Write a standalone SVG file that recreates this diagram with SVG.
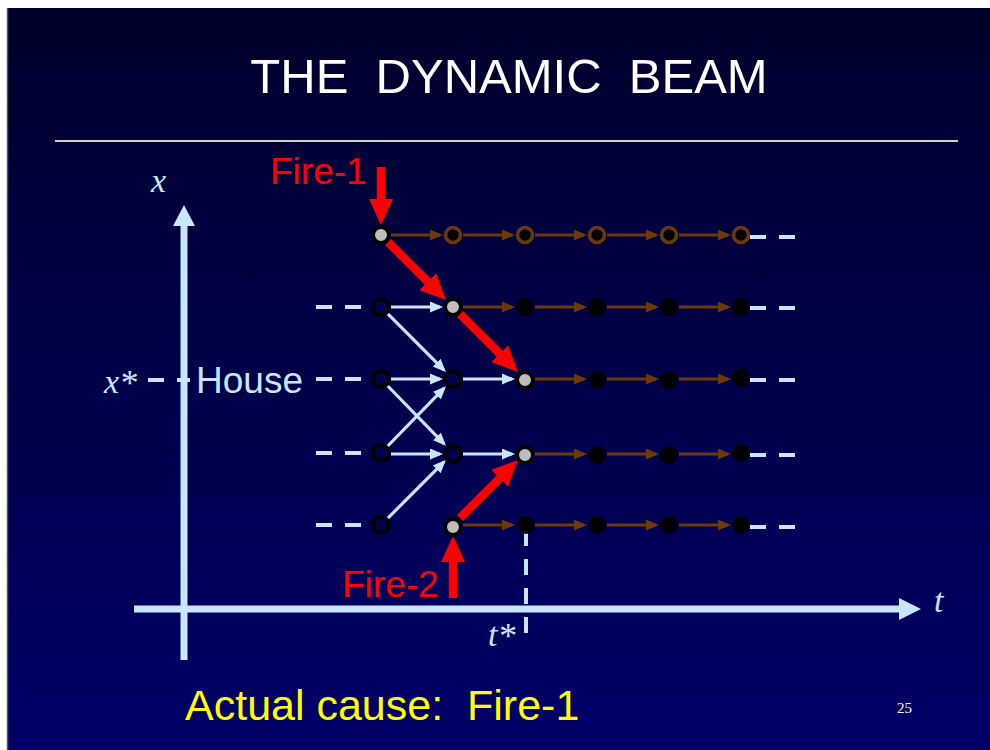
<svg xmlns="http://www.w3.org/2000/svg" width="990" height="750" viewBox="0 0 990 750">
  <defs>
    <linearGradient id="bg" x1="0" y1="0" x2="0" y2="1">
      <stop offset="0" stop-color="#00002c"/>
      <stop offset="1" stop-color="#000068"/>
    </linearGradient>
    <marker id="brownHead" markerUnits="userSpaceOnUse" viewBox="0 0 13 11" refX="10" refY="5.5" markerWidth="13" markerHeight="11" orient="auto">
      <path d="M0,0 L13,5.5 L0,11 z" fill="#6b3a08"/>
    </marker>
    <marker id="blueHead" markerUnits="userSpaceOnUse" viewBox="0 0 13 11" refX="10" refY="5.5" markerWidth="13" markerHeight="11" orient="auto">
      <path d="M0,0 L13,5.5 L0,11 z" fill="#c8e6ff"/>
    </marker>
    <marker id="redHead" markerUnits="userSpaceOnUse" viewBox="0 0 26 24" refX="6" refY="12" markerWidth="26" markerHeight="24" orient="auto">
      <path d="M0,0 L26,12 L0,24 z" fill="#ff0000"/>
    </marker>
    <style>
      .brown { stroke: #6b3a08; stroke-width: 3; fill: none; marker-end: url(#brownHead); }
      .blue { stroke: #c8e6ff; stroke-width: 3.2; fill: none; marker-end: url(#blueHead); }
      .red { stroke: #ff0000; stroke-width: 8.5; fill: none; marker-end: url(#redHead); }
      .dash { stroke: #c8e6ff; stroke-width: 4; stroke-dasharray: 16 13; fill: none; }
      .axis { stroke: #c8e6ff; stroke-width: 7; fill: none; }
      .hollow { fill: #000050; stroke: #000000; stroke-width: 4; }
      .gray { fill: #bdbdbd; stroke: #000000; stroke-width: 4; }
      .ring { fill: #000000; stroke: #6b3a08; stroke-width: 3.5; }
      .solid { fill: #000000; stroke: none; }
      .sans { font-family: "Liberation Sans", Arial, sans-serif; }
      .ital { font-family: "Liberation Serif", "Times New Roman", serif; font-style: italic; fill: #c8e6ff; }
    </style>
  </defs>

  <rect x="0" y="0" width="990" height="750" fill="#ffffff"/>
  <rect x="7" y="8" width="983" height="742" fill="url(#bg)"/>
  <line x1="7.5" y1="8" x2="7.5" y2="750" stroke="#555555" stroke-width="1.5"/>

  <text x="509" y="93" class="sans" font-size="49" fill="#ffffff" text-anchor="middle" xml:space="preserve">THE  DYNAMIC  BEAM</text>
  <line x1="55" y1="141" x2="958" y2="141" stroke="#cfcfcf" stroke-width="2"/>

  <!-- axes -->
  <g id="axes">
    <line class="axis" x1="184" y1="660" x2="184" y2="222"/>
    <polygon points="173,226 184,205 195,226" fill="#c8e6ff"/>
    <line class="axis" x1="134" y1="609" x2="902" y2="609"/>
    <polygon points="899,598 921,609 899,620" fill="#c8e6ff"/>
    <text x="151" y="192" class="ital" font-size="34">x</text>
    <text x="934" y="612" class="ital" font-size="34">t</text>
    <text x="104" y="393" class="ital" font-size="34">x<tspan font-size="36" dy="2">*</tspan></text>
    <text x="488" y="646" class="ital" font-size="34">t<tspan font-size="36" dy="2">*</tspan></text>
  </g>

  <!-- dashes -->
  <g id="dashes">
    <line class="dash" x1="148" y1="380" x2="190" y2="380" stroke-dasharray="17 13"/>
    <line class="dash" x1="316" y1="307" x2="361" y2="307"/>
    <line class="dash" x1="316" y1="379" x2="361" y2="379"/>
    <line class="dash" x1="316" y1="453" x2="361" y2="453"/>
    <line class="dash" x1="316" y1="525" x2="361" y2="525"/>
    <line class="dash" x1="750" y1="237" x2="796" y2="237"/>
    <line class="dash" x1="750" y1="308" x2="796" y2="308"/>
    <line class="dash" x1="750" y1="380" x2="796" y2="380"/>
    <line class="dash" x1="750" y1="455" x2="796" y2="455"/>
    <line class="dash" x1="750" y1="527" x2="796" y2="527"/>
    <line class="dash" x1="526" y1="530" x2="526" y2="634" stroke-dasharray="15 14"/>
  </g>

  <text x="196" y="393" class="sans" font-size="37" fill="#c8e6ff">House</text>

  <!-- connectors -->
  <g id="connectors">
    <!-- row 1 brown -->
    <line class="brown" x1="391" y1="235" x2="440" y2="235"/>
    <line class="brown" x1="463" y1="235" x2="512" y2="235"/>
    <line class="brown" x1="535" y1="235" x2="584" y2="235"/>
    <line class="brown" x1="607" y1="235" x2="656" y2="235"/>
    <line class="brown" x1="679" y1="235" x2="728" y2="235"/>
    <!-- row 2 brown -->
    <line class="brown" x1="463" y1="307" x2="512" y2="307"/>
    <line class="brown" x1="535" y1="307" x2="584" y2="307"/>
    <line class="brown" x1="607" y1="307" x2="656" y2="307"/>
    <line class="brown" x1="679" y1="307" x2="728" y2="307"/>
    <!-- row 3 brown -->
    <line class="brown" x1="535" y1="379" x2="584" y2="379"/>
    <line class="brown" x1="607" y1="379" x2="656" y2="379"/>
    <line class="brown" x1="679" y1="379" x2="728" y2="379"/>
    <!-- row 4 brown -->
    <line class="brown" x1="535" y1="454" x2="584" y2="454"/>
    <line class="brown" x1="607" y1="454" x2="656" y2="454"/>
    <line class="brown" x1="679" y1="454" x2="728" y2="454"/>
    <!-- row 5 brown -->
    <line class="brown" x1="463" y1="525" x2="512" y2="525"/>
    <line class="brown" x1="535" y1="525" x2="584" y2="525"/>
    <line class="brown" x1="607" y1="525" x2="656" y2="525"/>
    <line class="brown" x1="679" y1="525" x2="728" y2="525"/>

    <!-- light blue -->
    <line class="blue" x1="391" y1="307" x2="440" y2="307"/>
    <line class="blue" x1="391" y1="379" x2="440" y2="379"/>
    <line class="blue" x1="463" y1="379" x2="512" y2="379"/>
    <line class="blue" x1="391" y1="454" x2="440" y2="454"/>
    <line class="blue" x1="463" y1="454" x2="512" y2="454"/>
    <line class="blue" x1="387.4" y1="313.4" x2="443.8" y2="369.8"/>
    <line class="blue" x1="387.3" y1="385.5" x2="443.9" y2="443.7"/>
    <line class="blue" x1="387.3" y1="446.5" x2="443.9" y2="388.3"/>
    <line class="blue" x1="387.4" y1="518.6" x2="443.8" y2="462.2"/>

    <!-- red -->
    <line class="red" x1="388" y1="242" x2="431.8" y2="285.8"/>
    <line class="red" x1="460" y1="314" x2="503.8" y2="357.8"/>
    <line class="red" x1="460" y1="518" x2="503.8" y2="474.2"/>
    <line class="red" x1="381" y1="167" x2="381" y2="205"/>
    <line class="red" x1="453" y1="598" x2="453" y2="556"/>
  </g>

  <text x="270" y="184" class="sans" font-size="37" fill="#ff0000">Fire-1</text>
  <text x="342" y="597" class="sans" font-size="37" fill="#ff0000">Fire-2</text>

  <!-- nodes -->
  <g id="n-1-1"><circle class="gray" cx="381" cy="235" r="8"/></g>
  <g id="n-1-2"><circle class="ring" cx="453" cy="235" r="7.5"/></g>
  <g id="n-1-3"><circle class="ring" cx="525" cy="235" r="7.5"/></g>
  <g id="n-1-4"><circle class="ring" cx="597" cy="235" r="7.5"/></g>
  <g id="n-1-5"><circle class="ring" cx="669" cy="235" r="7.5"/></g>
  <g id="n-1-6"><circle class="ring" cx="741" cy="235" r="7.5"/></g>

  <g id="n-2-1"><circle class="hollow" cx="381" cy="307" r="8"/></g>
  <g id="n-2-2"><circle class="gray" cx="453" cy="307" r="8"/></g>
  <g id="n-2-3"><circle class="solid" cx="525" cy="307" r="9"/></g>
  <g id="n-2-4"><circle class="solid" cx="597" cy="307" r="9"/></g>
  <g id="n-2-5"><circle class="solid" cx="669" cy="307" r="9"/></g>
  <g id="n-2-6"><circle class="solid" cx="741" cy="307" r="9"/></g>

  <g id="n-3-1"><circle class="hollow" cx="381" cy="379" r="8"/></g>
  <g id="n-3-2"><circle class="hollow" cx="453" cy="379" r="8"/></g>
  <g id="n-3-3"><circle class="gray" cx="525" cy="380" r="8"/></g>
  <g id="n-3-4"><circle class="solid" cx="597" cy="380" r="9"/></g>
  <g id="n-3-5"><circle class="solid" cx="669" cy="380" r="9"/></g>
  <g id="n-3-6"><circle class="solid" cx="741" cy="378" r="9"/></g>

  <g id="n-4-1"><circle class="hollow" cx="381" cy="453" r="8"/></g>
  <g id="n-4-2"><circle class="hollow" cx="453" cy="454" r="8"/></g>
  <g id="n-4-3"><circle class="gray" cx="525" cy="455" r="8"/></g>
  <g id="n-4-4"><circle class="solid" cx="597" cy="455" r="9"/></g>
  <g id="n-4-5"><circle class="solid" cx="669" cy="455" r="9"/></g>
  <g id="n-4-6"><circle class="solid" cx="741" cy="453" r="9"/></g>

  <g id="n-5-1"><circle class="hollow" cx="381" cy="525" r="8"/></g>
  <g id="n-5-2"><circle class="gray" cx="453" cy="527" r="8"/></g>
  <g id="n-5-3"><circle class="solid" cx="526" cy="525" r="9"/></g>
  <g id="n-5-4"><circle class="solid" cx="597" cy="525" r="9"/></g>
  <g id="n-5-5"><circle class="solid" cx="669" cy="525" r="9"/></g>
  <g id="n-5-6"><circle class="solid" cx="741" cy="525" r="9"/></g>

  <text x="185" y="720" class="sans" font-size="43" fill="#ffff00" xml:space="preserve">Actual cause:  Fire-1</text>
  <text x="897" y="713" font-family="Liberation Serif, Times New Roman, serif" font-size="15" fill="#ffffff">25</text>
</svg>
